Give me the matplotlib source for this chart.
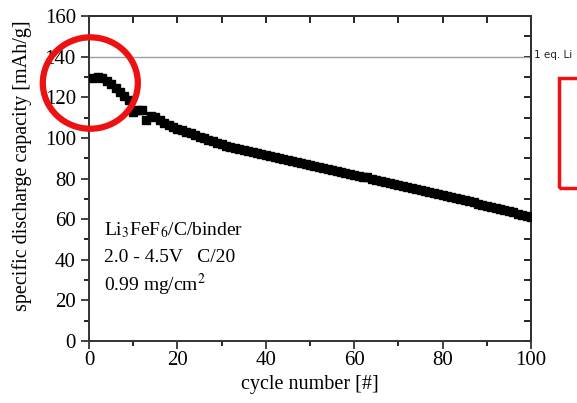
import matplotlib
matplotlib.use("Agg")
import matplotlib.pyplot as plt
from matplotlib.patches import Ellipse, Rectangle

plt.rcParams['font.family'] = ['Liberation Serif', 'DejaVu Serif']
plt.rcParams['mathtext.fontset'] = 'stix'

cycles = list(range(1, 101))
capacity = [
    129.5, 130.0, 129.5, 128.0, 126.5, 124.5, 122.5, 120.5, 118.5, 112.5,
    113.5, 113.5, 109.0, 111.0, 110.5, 109.0, 107.5, 106.5, 105.5, 104.5,
    104.0, 103.0, 102.5, 101.5, 100.5, 100.0, 99.0, 98.5, 97.5, 97.0,
    96.0, 95.5, 95.0, 94.5, 94.0, 93.5, 93.0, 92.5, 92.0, 91.5,
    91.0, 90.5, 90.0, 89.5, 89.0, 88.5, 88.0, 87.5, 87.0, 86.5,
    86.0, 85.5, 85.0, 84.5, 84.0, 83.5, 83.0, 82.5, 82.0, 81.5,
    81.0, 80.5, 80.5, 80.0, 79.5, 79.0, 78.5, 78.0, 77.5, 77.0,
    76.5, 76.0, 75.5, 75.0, 74.5, 74.0, 73.5, 73.0, 72.5, 72.0,
    71.5, 71.0, 70.5, 70.0, 69.5, 69.0, 68.5, 67.5, 67.0, 66.5,
    66.0, 65.5, 65.0, 64.5, 64.0, 63.5, 62.5, 62.0, 61.5, 61.0,
]
x_ticks = [0, 20, 40, 60, 80, 100]
y_ticks = [0, 20, 40, 60, 80, 100, 120, 140, 160]
ref_level = 140
annot_lines = ["Li$_3$FeF$_6$/C/binder", "2.0 - 4.5V   C/20", "0.99 mg/cm$^2$"]

W, H = 577, 403
fig = plt.figure(figsize=(W / 100, H / 100), dpi=100)
ax = fig.add_axes([89 / W, 1 - 341 / H, (531 - 89) / W, (341 - 16) / H])

ax.axhline(ref_level, color='#a0a0a0', lw=1.0, zorder=1)
ax.plot(cycles, capacity, 's', color='black', ms=5.5, zorder=3)

ax.set_xlim(0, 100)
ax.set_ylim(0, 160)
ax.set_xticks(x_ticks)
ax.set_yticks(y_ticks)
ax.set_xticks(range(10, 100, 20), minor=True)
ax.set_yticks(range(10, 160, 20), minor=True)
ax.tick_params(which='major', direction='out', length=6, width=1.2, labelsize=15, colors='#222222')
ax.tick_params(which='minor', direction='out', length=3.5, width=1.2)
ax.tick_params(axis='both', labelcolor='black')
ax.tick_params(axis='x', which='major', pad=1.5)
for s in ax.spines.values():
    s.set_linewidth(1.4)
    s.set_color('#333333')

secx = ax.secondary_xaxis('top')
secx.set_xticks(range(0, 101, 10))
secx.tick_params(direction='in', length=5, width=1.2, labeltop=False)
secx.spines['top'].set_linewidth(1.4)
secy = ax.secondary_yaxis('right')
secy.set_yticks(range(0, 161, 10))
secy.tick_params(direction='in', length=5, width=1.2, labelright=False)
secy.spines['right'].set_linewidth(1.4)

ax.set_xlabel("cycle number [#]", fontsize=14.5)
ax.xaxis.set_label_coords(0.5, -(385 - 341) / 325)
ax.xaxis.label.set_va('center')
ax.set_ylabel("specific discharge capacity [mAh/g]", fontsize=14.5)
ax.yaxis.set_label_coords(-(89 - 22) / 442, (341 - 166) / 325)
ax.yaxis.label.set_va('center')

for i, t in enumerate(annot_lines):
    ax.text(0.035, 0.34 - i * 0.083, t, transform=ax.transAxes, fontsize=14, va='center', ha='left')

fig.text(534 / W, 1 - 55 / H, "1 eq. Li", fontsize=7.5, family='DejaVu Sans', va='center', ha='left', color='#222222')

ell = Ellipse((0.3, 127), width=21.5, height=45, fill=False, edgecolor='#ee1111', lw=4.5,
              clip_on=False, zorder=5)
ax.add_patch(ell)

rect = Rectangle((559 / W, 1 - 188 / H), 0.2, (188 - 78) / H, transform=fig.transFigure,
                 fill=False, edgecolor='#ee1111', lw=2.5, clip_on=False)
fig.patches.append(rect)

fig.savefig("out.png", dpi=100)
